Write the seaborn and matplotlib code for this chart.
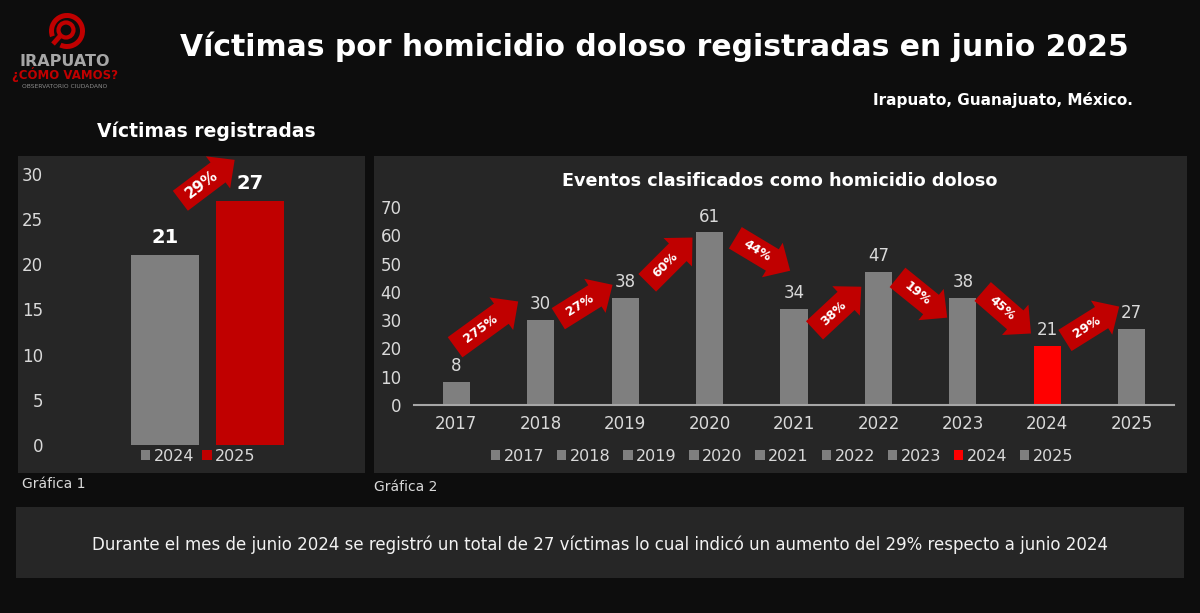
import numpy as np
import pandas as pd
import matplotlib
matplotlib.use("Agg")
import matplotlib.pyplot as plt
import seaborn as sns
from matplotlib.patches import Rectangle, Wedge, Circle

# datos: víctimas registradas en junio
left_years = ["2024", "2025"]
left_values = [21, 27]
left_change = "29%"

years = ["2017", "2018", "2019", "2020", "2021", "2022", "2023", "2024", "2025"]
events = [8, 30, 38, 61, 34, 47, 38, 21, 27]
change_labels = ["275%", "27%", "60%", "44%", "38%", "19%", "45%", "29%"]

W, H = 1200, 613
BG = "#0d0d0d"
PANEL = "#262626"
GRAY = "#7f7f7f"
DARKRED = "#c00000"
RED = "#ff0000"
TXT = "#d9d9d9"

sns.set_style("dark", {"axes.facecolor": "none", "figure.facecolor": BG})
plt.rcParams["font.family"] = ["DejaVu Sans"]
plt.rcParams["patch.edgecolor"] = "none"
plt.rcParams["patch.linewidth"] = 0


def box(x0, y0, x1, y1):
    # pixel box (top-left origin) -> figure fraction rect
    return [x0 / W, 1 - y1 / H, (x1 - x0) / W, (y1 - y0) / H]


def panel(x0, y0, x1, y1):
    fig.add_artist(Rectangle((x0 / W, 1 - y1 / H), (x1 - x0) / W, (y1 - y0) / H,
                             transform=fig.transFigure, color=PANEL, zorder=-1))


def ftext(x, y, s, **kw):
    fig.text(x / W, 1 - y / H, s, **kw)


def fat_arrow(ax, cx, cy, angle, length, label, fs):
    c = ax.transData.transform((cx, cy))
    d = np.array([np.cos(np.radians(angle)), np.sin(np.radians(angle))])
    inv = ax.transData.inverted()
    tail = inv.transform(c - d * length / 2)
    head = inv.transform(c + d * length / 2)
    ax.annotate("", xy=head, xytext=tail, annotation_clip=False,
                arrowprops=dict(arrowstyle="simple,head_length=15,head_width=29,tail_width=18",
                                mutation_scale=1, fc=DARKRED, ec="none", lw=0,
                                shrinkA=0, shrinkB=0))
    tp = inv.transform(c - d * length * 0.1)
    ax.text(tp[0], tp[1], label, rotation=angle, rotation_mode="anchor",
            ha="center", va="center", color="white", fontsize=fs,
            fontweight="bold", clip_on=False)


fig = plt.figure(figsize=(12, 6.13), dpi=100, facecolor=BG)

panel(18, 156, 365, 473)
panel(374, 156, 1187, 473)
panel(16, 507, 1184, 578)

# ---- Gráfica 1
ax1 = fig.add_axes(box(50, 174, 365, 445))
sns.barplot(x=["junio"] * 2, y=left_values, hue=left_years,
            palette=[GRAY, DARKRED], width=0.543, gap=0.2, saturation=1,
            linewidth=0, ax=ax1)
ax1.set_xlim(-0.5, 0.5)
ax1.set_ylim(0, 30)
ax1.set_yticks(range(0, 31, 5))
ax1.set_xticks([])
ax1.set_xlabel("")
ax1.set_ylabel("")
ax1.tick_params(axis="y", colors=TXT, labelsize=12, length=0, pad=5)
for s in ax1.spines.values():
    s.set_visible(False)
for c in ax1.containers:
    ax1.bar_label(c, fontsize=14, fontweight="bold", color="white", padding=6)
sns.move_legend(ax1, "upper center", bbox_to_anchor=(0.47, 0.01), ncol=2,
                frameon=False, title=None, fontsize=11.5, labelcolor=TXT,
                handlelength=0.6, handleheight=0.6, handletextpad=0.2,
                columnspacing=0.5, borderaxespad=0)
fat_arrow(ax1, 0.0, max(left_values) + 2.3, 37, 68, left_change, 11)

# ---- Gráfica 2
ax2 = fig.add_axes(box(414, 207, 1174, 405))
colors = {y: (RED if y == "2024" else GRAY) for y in years}
sns.barplot(x=years, y=events, hue=years, palette=colors, width=0.32,
            saturation=1, linewidth=0, legend=True, ax=ax2)
ax2.set_xlim(-0.5, len(years) - 0.5)
ax2.set_ylim(0, 70)
ax2.set_yticks(range(0, 71, 10))
ax2.set_xlabel("")
ax2.set_ylabel("")
ax2.tick_params(axis="y", colors=TXT, labelsize=12, length=0, pad=9)
ax2.tick_params(axis="x", colors=TXT, labelsize=12, length=0, pad=7)
for k, s in ax2.spines.items():
    s.set_visible(k == "bottom")
ax2.spines["bottom"].set_color("#a6a6a6")
ax2.spines["bottom"].set_linewidth(1.5)
for c in ax2.containers:
    ax2.bar_label(c, fontsize=12, color=TXT, padding=5)
sns.move_legend(ax2, "upper center", bbox_to_anchor=(0.484, -0.19), ncol=9,
                frameon=False, title=None, fontsize=11.5, labelcolor=TXT,
                handlelength=0.6, handleheight=0.6, handletextpad=0.2,
                columnspacing=0.8, borderaxespad=0)

# arrow placement tweaks (x shift, lift above mean, tilt, length px)
x_shift = [-0.14, 0.03, 0.03, 0.13, 0.02, 0.02, 0.02, 0.03]
lift = [9.5, 2.5, 1.7, 5.8, -6.4, -4.5, 3.2, 4.8]
tilt = [36, 32, 45, -31, 43, -39, -41, 32]
length = [78, 64, 64, 64, 64, 64, 64, 64]
for i, lab in enumerate(change_labels):
    cy = (events[i] + events[i + 1]) / 2 + lift[i]
    fat_arrow(ax2, i + 0.5 + x_shift[i], cy, tilt[i], length[i], lab, 9)

# ---- textos
ftext(654, 47, "Víctimas por homicidio doloso registradas en junio 2025",
      ha="center", va="center", fontsize=21.5, fontweight="bold", color="white")
ftext(1133, 100, "Irapuato, Guanajuato, México.", ha="right", va="center",
      fontsize=11, fontweight="bold", color="white")
ftext(206, 131, "Víctimas registradas", ha="center", va="center",
      fontsize=13.5, fontweight="bold", color="white")
ftext(780, 181, "Eventos clasificados como homicidio doloso", ha="center",
      va="center", fontsize=12.7, fontweight="bold", color="white")
ftext(22, 484, "Gráfica 1", ha="left", va="center", fontsize=10, color=TXT)
ftext(374, 487, "Gráfica 2", ha="left", va="center", fontsize=10, color=TXT)
ftext(600, 545, "Durante el mes de junio 2024 se registró un total de 27 víctimas lo cual "
      "indicó un aumento del 29% respecto a junio 2024",
      ha="center", va="center", fontsize=12, color="#f2f2f2")

# ---- logo
axl = fig.add_axes(box(0, 0, 140, 95))
axl.set_xlim(0, 140)
axl.set_ylim(95, 0)
axl.axis("off")
axl.add_patch(Wedge((67, 31), 18, 160, 475, width=5, color=DARKRED))
axl.add_patch(Circle((66, 30), 7.5, fill=False, ec=DARKRED, lw=3))
axl.plot([61, 53], [35, 44], color=DARKRED, lw=3.5, solid_capstyle="butt")
axl.text(65, 61, "IRAPUATO", ha="center", va="center", fontsize=11.5,
         fontweight="bold", color="#a6a6a6")
axl.text(65, 75, "¿CÓMO VAMOS?", ha="center", va="center", fontsize=8.5,
         fontweight="bold", color=DARKRED)
axl.text(65, 86, "OBSERVATORIO CIUDADANO", ha="center", va="center",
         fontsize=4.3, color="#8c8c8c")

fig.savefig("out.png", dpi=100, facecolor=BG)
